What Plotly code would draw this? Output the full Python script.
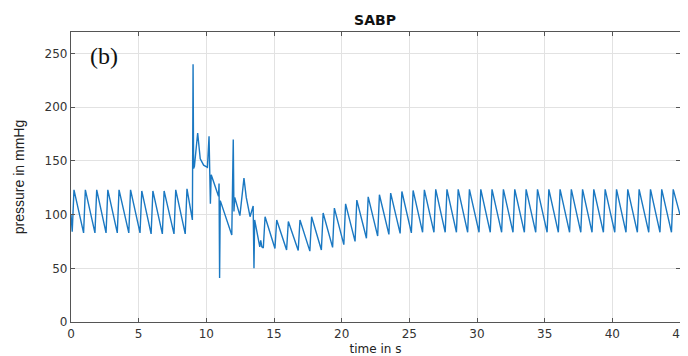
import plotly.graph_objects as go

# ---- data ----
x_ticks = [0, 5, 10, 15, 20, 25, 30, 35, 40, 45]
y_ticks = [0, 50, 100, 150, 200, 250]

start_t, start_p = 0.0, 100
# regular beats before the disturbance (peak times, peak values, trough before peak)
pre_peak_t = [0.22, 1.06, 1.90, 2.72, 3.55, 4.40, 5.23, 6.05, 6.88, 7.74, 8.57]
pre_peak_p = [123, 123, 123, 123, 123, 123, 122, 122, 122, 123, 124]
pre_trough_p = [84, 83, 83, 83, 83, 83, 83, 82, 82, 82, 82]

# transient section (vertices)
transient_t = [8.97, 9.02, 9.06, 9.12, 9.36, 9.55, 9.80, 10.08, 10.20, 10.30, 10.36,
               10.90, 10.94, 10.98, 11.03, 11.88, 11.99, 12.04, 12.10, 12.48, 12.78,
               12.95, 13.23, 13.46, 13.52, 13.57, 13.95, 14.02, 14.10]
transient_p = [95, 240, 143, 145, 176, 152, 146, 144, 173, 110, 137,
               117, 129, 41, 113, 81, 170, 103, 116, 99, 134,
               116, 98, 108, 50, 95, 70, 76, 70]

# recovery / steady beats
post_peak_t = [14.34, 15.20, 16.06, 16.92, 17.78, 18.63, 19.46, 20.29, 21.12, 21.96,
               22.79, 23.62, 24.45, 25.28, 26.11, 26.95, 27.78, 28.61, 29.44, 30.28,
               31.11, 31.95, 32.79, 33.63, 34.47, 35.31, 36.14, 36.97, 37.80, 38.63,
               39.47, 40.31, 41.14, 41.98, 42.82, 43.65, 44.50]
post_peak_p = [98, 95, 93.5, 95, 98, 101.5, 106, 110, 113.5, 116.5,
               118.5, 120, 121.5, 122.5, 123, 123.5, 123.5, 123.5, 123.5, 123.5,
               123.5, 123.5, 123.5, 123.5, 123.5, 123.5, 123.5, 123.5, 123.5, 123.5,
               123.5, 123.5, 123.5, 123.5, 123.5, 123.5, 123.5]
post_trough_p = [69, 68.5, 67, 66.5, 66, 67, 69.5, 72, 75, 78,
                 80, 81.5, 82.5, 83, 83.5, 83.5, 83.5, 83.5, 83.5, 83.5,
                 83.5, 83.5, 83.5, 83.5, 83.5, 83.5, 83.5, 83.5, 83.5, 83.5,
                 83.5, 83.5, 83.5, 83.5, 83.5, 83.5, 83.5]
end_t, end_p = 45.0, 100

RISE = 0.13


def beats(peak_t, peak_p, trough_p):
    xs, ys = [], []
    for t, p, tr in zip(peak_t, peak_p, trough_p):
        xs += [t - RISE, t]
        ys += [tr, p]
    return xs, ys


t_all, p_all = [start_t], [start_p]
bx, by = beats(pre_peak_t, pre_peak_p, pre_trough_p)
t_all += bx; p_all += by
t_all += transient_t; p_all += transient_p
bx, by = beats(post_peak_t, post_peak_p, post_trough_p)
t_all += bx; p_all += by
t_all.append(end_t); p_all.append(end_p)

fig = go.Figure()
fig.add_trace(go.Scatter(x=t_all, y=p_all, mode="lines",
                         line=dict(color="#1a78c2", width=1.4),
                         showlegend=False, hoverinfo="skip"))

axis_common = dict(showline=True, linecolor="#555555", linewidth=1.2, mirror="ticks",
                   ticks="inside", ticklen=4, tickcolor="#555555", automargin=False,
                   showgrid=True, gridcolor="#e2e2e2", gridwidth=1, zeroline=False,
                   tickfont=dict(family="DejaVu Sans", size=12, color="#333333"))

# page has an 8px body margin, so the figure is sized/offset to compensate
W, H = 680, 348
fig.update_layout(
    width=W, height=H,
    margin=dict(l=63, r=8, t=24, b=34),
    paper_bgcolor="white", plot_bgcolor="white",
    title=dict(text="<b>SABP</b>", x=367 / W, xanchor="center",
               y=1 - 12 / H, yanchor="middle",
               font=dict(family="DejaVu Sans", size=14, color="#111111")),
    xaxis=dict(range=[0, 45], tickvals=x_ticks,
               title=dict(text="time in s", standoff=5,
                          font=dict(family="DejaVu Sans", size=12, color="#222222")),
               **axis_common),
    yaxis=dict(range=[0, 270], tickvals=y_ticks,
               title=dict(text="pressure in mmHg", standoff=16,
                          font=dict(family="Liberation Sans", size=14, color="#222222")),
               **axis_common),
    annotations=[dict(text="(b)", x=(104 - 71) / 609, y=(322 - 56) / 290,
                      xref="paper", yref="paper", xanchor="center", yanchor="middle",
                      showarrow=False,
                      font=dict(family="Liberation Serif", size=24, color="#111111"))],
)

fig.write_html("out.html")
